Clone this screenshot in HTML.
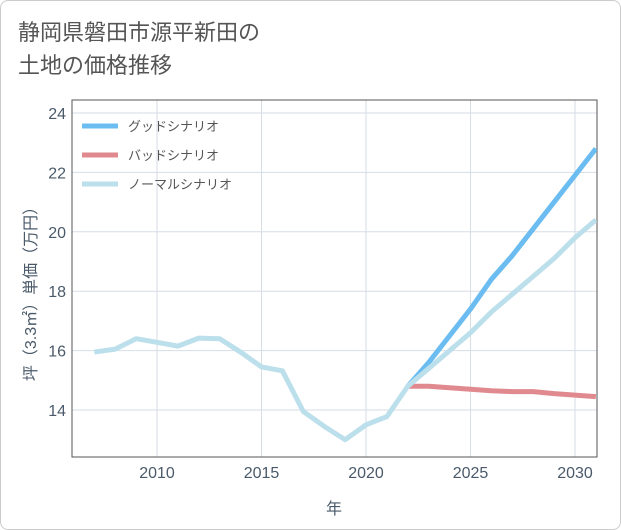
<!DOCTYPE html>
<html><head><meta charset="utf-8">
<style>
body{margin:0;background:#fff;font-family:"Liberation Sans","Noto Sans CJK JP",sans-serif;}
#card{position:absolute;left:0;top:0;width:619px;height:528px;border:1px solid #ccc;border-radius:8px;background:#fff;}
#title{position:absolute;left:18px;top:16px;font-size:22px;line-height:33px;color:#555;}
svg{position:absolute;left:0;top:0;}
</style></head><body>
<div id="card"></div>
<div id="title">静岡県磐田市源平新田の<br>土地の価格推移</div>
<svg id="chart" width="621" height="530"></svg>
<script>
const years=[2007,2008,2009,2010,2011,2012,2013,2014,2015,2016,2017,2018,2019,2020,2021,2022,2023,2024,2025,2026,2027,2028,2029,2030,2031];
const normal=[15.95,16.05,16.4,16.28,16.15,16.42,16.4,15.95,15.45,15.32,13.95,13.45,13.0,13.5,13.78,14.8,15.4,16.0,16.6,17.3,17.9,18.5,19.1,19.8,20.4];
const futureYears=[2022,2023,2024,2025,2026,2027,2028,2029,2030,2031];
const good=[14.8,15.6,16.5,17.4,18.4,19.2,20.1,21.0,21.9,22.8];
const bad=[14.8,14.8,14.75,14.7,14.65,14.62,14.62,14.55,14.5,14.45];
const yTicks=[14,16,18,20,22,24];
const xTicks=[2010,2015,2020,2025,2030];
const L=72,R=597,T=100,B=457;
const X=y=>157+(y-2010)*20.9;
const Y=v=>410-(v-14)*29.7;
const NS="http://www.w3.org/2000/svg";
const svg=document.getElementById('chart');
function mk(t,a,p){const e=document.createElementNS(NS,t);for(const k in a)e.setAttribute(k,a[k]);(p||svg).appendChild(e);return e;}
const defs=mk('defs',{});const cp=mk('clipPath',{id:'c'},defs);mk('rect',{x:L,y:T,width:R-L,height:B-T},cp);
yTicks.forEach(v=>{
const g=mk('line',{x1:L,x2:R,y1:Y(v),y2:Y(v),stroke:'#d5dde5','stroke-width':1});


const t=mk('text',{x:L-6,y:Y(v)+6,'text-anchor':'end','font-size':16,fill:'#4a5a6a'});t.textContent=v;


});
xTicks.forEach(v=>{
const g=mk('line',{x1:X(v),x2:X(v),y1:T,y2:B,stroke:'#d5dde5','stroke-width':1});


const t=mk('text',{x:X(v),y:B+21,'text-anchor':'middle','font-size':16,fill:'#4a5a6a'});t.textContent=v;


});
const fr=mk('rect',{x:L,y:T,width:R-L,height:B-T,fill:'none',stroke:'#555','stroke-width':1});


function line(xs,vs,col,name){
const p=mk('polyline',{points:xs.map((x,i)=>X(x)+','+Y(vs[i])).join(' '),fill:'none',stroke:col,'stroke-width':5,'stroke-linejoin':'round','clip-path':'url(#c)'});


}
line(futureYears,bad,'#e08a8f','bad-scenario-line');
line(futureYears,good,'#6bbcf0','good-scenario-line');
line(years,normal,'#bcdfec','normal-scenario-line');
const leg=[['グッドシナリオ','#6bbcf0'],['バッドシナリオ','#e08a8f'],['ノーマルシナリオ','#bcdfec']];
leg.forEach((l,i)=>{
const y=126+i*29;
const s=mk('line',{x1:82,x2:118,y1:y,y2:y,stroke:l[1],'stroke-width':5});


const t=mk('text',{x:128,y:y+5,'font-size':13,fill:'#555'});t.textContent=l[0];


});
const xt=mk('text',{x:334,y:514,'text-anchor':'middle','font-size':16,fill:'#4a5a6a'});xt.textContent='年';


const yt=mk('text',{x:0,y:0,'text-anchor':'middle','font-size':16,fill:'#4a5a6a',transform:'translate(36,290) rotate(-90)'});yt.textContent='坪（3.3㎡）単価（万円）';


</script>
</body></html>
